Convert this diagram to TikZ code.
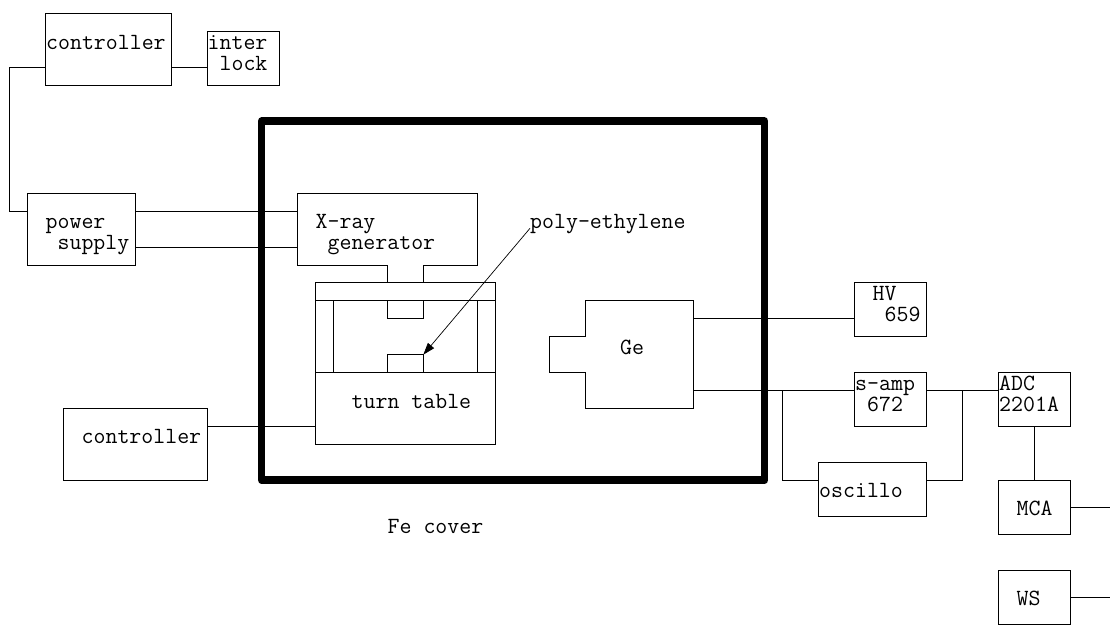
\documentclass[tikz,border=0pt]{standalone}
\usetikzlibrary{arrows.meta, positioning, calc}

\begin{document}
\begin{tikzpicture}[
  x=1pt, y=-1pt,
  >={Triangle[length=12pt,width=8pt]},
  box/.style 2 args={draw, inner sep=0pt, outer sep=0pt, line width=0.9pt,
              minimum width=#1pt, minimum height=#2pt},
  plain/.style 2 args={box={#1}{#2}, draw=none},
  txt/.style={anchor=base west, inner sep=0pt, align=left,
              font=\fontsize{23.2}{21}\selectfont\ttfamily},
  wire/.style={line width=0.9pt},
  cover/.style={draw, line width=7.5pt, line join=round, inner sep=0pt,
              minimum width=503pt, minimum height=359pt},
]
\useasboundingbox (0,0) rectangle (1110,639);

\node[cover] (fe) at (513.2,300.7) {};

% left side
\node[box={126}{72}]  (ctrl)  at (108.5,49.5)  {};
\node[box={72}{54}]   (lock)  at (243.5,58.5)  {};
\node[box={108}{72}]  (psu)   at (81.5,229)    {};
\node[box={144}{72}]  (ctrl2) at (135.5,444.5) {};

% inside the cover
\node[plain={180}{72}]   (xray)  at (387.3,229)   {};
\node[box={180}{162}]    (house) at (405.3,363.7) {};
\node[box={180}{18}]     (plate) at (405.3,291.7) {};
\node[box={180}{72}]     (table) at (405.3,408.7) {};
\node[box={36}{18}]      (utab)  at (405.3,309.7) {};
\node[box={36}{18}]      (ltab)  at (405.3,363.7) {};
\node[plain={108}{108}]  (ge)    at (639,354.7)   {};

\draw[wire] (xray.north west) -- (xray.north east) -- (xray.south east)
  -- (utab.east |- xray.south) -- (utab.east |- plate.north)
  -- (utab.west |- plate.north) -- (utab.west |- xray.south)
  -- (xray.south west) -- cycle;
\draw[wire] (plate.south west -| 333.3,0) -- (table.north west -| 333.3,0);
\draw[wire] (plate.south east -| 477,0) -- (table.north east -| 477,0);
\draw[wire] (ge.north west) -- (ge.north east) -- (ge.south east) -- (ge.south west)
  -- ++(0,-36) -- ++(-36,0) -- ++(0,-36) -- ++(36,0) -- cycle;

% right side
\node[box={72}{54}]   (hv)   at (890.7,309.7)  {};
\node[box={72}{54}]   (samp) at (890.7,399.7)  {};
\node[box={108}{54}]  (osc)  at (872.7,489.5)  {};
\node[box={72}{54}]   (adc)  at (1034.5,399.7) {};
\node[box={72}{54}]   (mca)  at (1034.5,507)   {};
\node[box={72}{54}]   (ws)   at (1034.5,597)   {};

\coordinate (mcaout) at (1110,507.3);
\coordinate (wsout)  at (1110,597);

\foreach \a/\b/\y in {ctrl/lock/67.5, psu/xray/211, psu/xray/247,
                      ctrl2/table/426.7, ge/hv/318.7, ge/samp/390.5, samp/adc/390.5}
  \draw[wire] (\a.east |- 0,\y) -- (\b.west |- 0,\y);

\draw[wire] (ctrl.west |- 0,67.5) -| (9.5,211) -- (psu.west |- 0,211);
\draw[wire] (782.7,390.5) |- (osc.west |- 0,480.3);
\draw[wire] (962.7,390.5) |- (osc.east |- 0,480.3);
\draw[wire] (adc) -- (mca);
\draw[wire] (mca.east |- mcaout) -- (mcaout);
\draw[wire] (ws.east |- wsout) -- (wsout);

% labels
\node[txt] (ctrl-t)  at (46,49.5)     {controller};
\node[txt] (lock-t)  at (207.5,70.5)  {inter\\\ lock};
\node[txt] (psu-t)   at (45.5,249)    {power\\\ supply};
\node[txt] (ctrl2-t) at (81.5,443.7)  {controller};
\node[txt] (xray-t)  at (315.5,249)   {X-ray\\\ generator};
\node[txt] (table-t) at (351.5,408)   {turn table};
\node[txt] (poly)    at (530,228.3)   {poly-ethylene};
\node[txt] (ge-t)    at (620,354)     {Ge};
\node[txt] (fe-t)    at (387.5,533.3) {Fe cover};
\node[txt] (hv-t)    at (872.5,321.7) {HV\\\ 659};
\node[txt] (samp-t)  at (855,411.3)   {s-amp\\\ 672};
\node[txt] (adc-t)   at (999,411.3)   {ADC\\2201A};
\node[txt] (osc-t)   at (819,497.3)   {oscillo};
\node[txt] (mca-t)   at (1016.5,515)  {MCA};
\node[txt] (ws-t)    at (1016.5,605)  {WS};

\draw[->, line width=0.7pt] (poly.base west) -- (ltab.north east);
\end{tikzpicture}
\end{document}
